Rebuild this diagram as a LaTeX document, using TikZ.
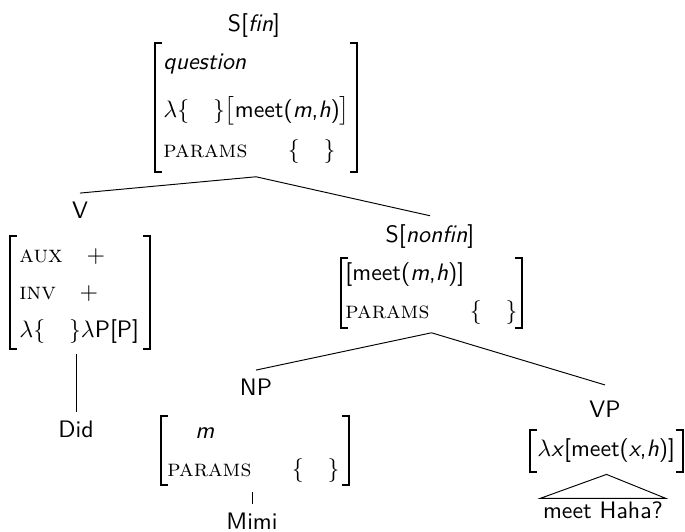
\documentclass[tikz,border=0pt]{standalone}
\usepackage{amsmath}
\usepackage{amsfonts}
\usepackage{tikz}
\usetikzlibrary{fit}
\renewcommand{\familydefault}{\sfdefault}
\newcommand{\feat}[1]{\textrm{\textsc{#1}}}
\newcommand{\params}{\feat{params}\hspace{17pt}$\{\quad\}$}
\newcommand{\brackets}[1]{%
  \draw[brk] ([xshift=3pt]#1.north west) -- (#1.north west) -- (#1.south west) -- ([xshift=3pt]#1.south west);
  \draw[brk] ([xshift=-3pt]#1.north east) -- (#1.north east) -- (#1.south east) -- ([xshift=-3pt]#1.south east);}

\begin{document}
\begin{tikzpicture}[x=0.42pt,y=-0.42pt,
    cat/.style={anchor=base},
    row/.style={anchor=base west, inner sep=0pt},
    avm/.style={inner sep=0pt, outer sep=0pt},
    brk/.style={line width=0.5pt}]
        \useasboundingbox (0,0) rectangle (685,531);
        \node[cat] (sfin) at (254,31) {S[\textit{fin}]};
        \node[avm, fit={(155,43) (357,172)}] (f1) {};
        \node[row] (f1a) at (163,69) {\textit{question}};
        \node[row] (f1b) at (163,117) {$\lambda\{\quad\}\bigl[$meet(\textit{m},\textit{h})$\bigr]$};
        \node[row] (f1c) at (163,157) {\params};
        \brackets{f1}
        \node[cat] (v) at (80,218) {V};
        \node[avm, fit={(10,236) (150,349)}] (fv) {};
        \node[row] (fva) at (19,262) {\feat{aux}\quad$+$};
        \node[row] (fvb) at (19,299) {\feat{inv}\quad$+$};
        \node[row] (fvc) at (19,337) {$\lambda\{\quad\}\lambda$P[P]};
        \brackets{fv}
        \node[cat] (did) at (76,437) {Did};
        \node[cat] (snonfin) at (430,242) {S[\textit{nonfin}]};
        \node[avm, fit={(341,258) (522,328)}] (f2) {};
        \node[row] (f2a) at (345,280) {[meet(\textit{m},\textit{h})]};
        \node[row] (f2b) at (345,318) {\params};
        \brackets{f2}
        \node[cat] (np) at (256,395) {NP};
        \node[avm, fit={(161,416) (349,485)}] (fnp) {};
        \node[row] (fnpa) at (195,438) {\textit{m}};
        \node[row] (fnpb) at (167,476) {\params};
        \brackets{fnp}
        \node[cat] (mimi) at (252,529) {Mimi};
        \node[cat] (vp) at (605,417) {VP};
        \node[avm, fit={(530,430) (683,472)}] (fvp) {};
        \node[row] (fvpa) at (537,456) {$\lambda$\textit{x}[meet(\textit{x},\textit{h})]};
        \brackets{fvp}
        \node[cat, inner sep=1pt] (haha) at (603,518) {meet Haha?};
        \draw ([yshift=-2pt]f1.south) -- (v.north);
        \draw ([yshift=-2pt]f1.south) -- (snonfin.north);
        \draw[shorten <=2pt] (fv.south -| did.north) -- (did.north);
        \draw ([yshift=-2pt]f2.south) -- (np.north);
        \draw ([yshift=-2pt]f2.south) -- ([yshift=3pt]vp.north);
        \draw[shorten <=3pt] (fnp.south -| mimi.north) -- (mimi.north);
        \draw ([yshift=-1pt]fvp.south) -- (haha.north west) -- (haha.north east) -- cycle;
    \end{tikzpicture}
\end{document}
